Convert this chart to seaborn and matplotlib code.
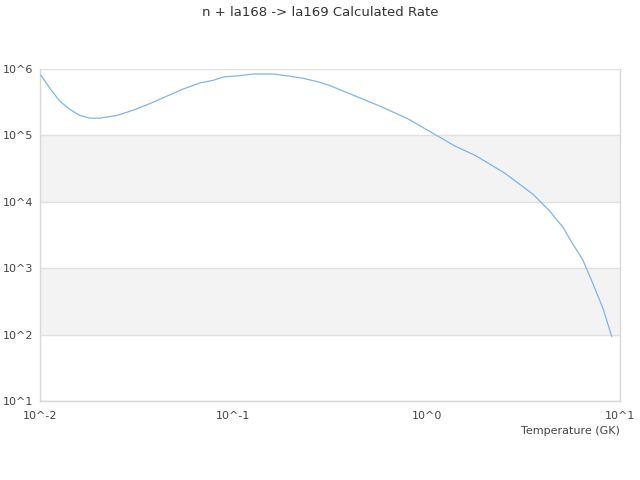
import numpy as np
import pandas as pd
import matplotlib
matplotlib.use('Agg')
import matplotlib.pyplot as plt
import seaborn as sns
from matplotlib.ticker import FuncFormatter, FixedLocator, NullLocator

# Rate values (temperature in GK, rate)
temperature = [0.0101, 0.0113, 0.0127, 0.0143, 0.0161, 0.0181, 0.0204, 0.0249,
               0.0304, 0.0371, 0.0452, 0.0552, 0.0672, 0.0788, 0.0888, 0.108,
               0.127, 0.161, 0.197, 0.23, 0.28, 0.316, 0.574, 0.80, 1.08, 1.40,
               1.78, 2.54, 3.56, 4.3, 5.09, 5.6, 6.41, 7.14, 8.2, 9.06]
log_rate = [5.91, 5.70, 5.51, 5.39, 5.30, 5.26, 5.26, 5.30,
            5.38, 5.48, 5.59, 5.70, 5.79, 5.83, 5.88, 5.90,
            5.925, 5.925, 5.89, 5.86, 5.80, 5.75, 5.44, 5.25, 5.03, 4.84,
            4.70, 4.43, 4.11, 3.87, 3.61, 3.40, 3.13, 2.81, 2.38, 1.97]
rate = [10 ** v for v in log_rate]

x_ticks = [0.01, 0.1, 1, 10]
y_ticks = [10, 100, 1000, 1e4, 1e5, 1e6]
title = "n + la168 -> la169 Calculated Rate"
x_label = "Temperature (GK)"

df = pd.DataFrame({'T': temperature, 'rate': rate})

sns.set_style('white')
plt.rcParams['font.family'] = ['DejaVu Sans']

fig = plt.figure(figsize=(6.4, 4.8), dpi=100)
ax = fig.add_axes([40 / 640, 1 - 401 / 480, 580 / 640, 332 / 480])

# alternating bands like the original
for lo, hi in [(1e4, 1e5), (1e2, 1e3)]:
    ax.axhspan(lo, hi, color='#f3f3f3', zorder=0, lw=0)
for y in y_ticks:
    ax.axhline(y, color='#e0e0e0', lw=1, zorder=1)

sns.lineplot(data=df, x='T', y='rate', ax=ax, color='#7cb5ec', lw=0.9, zorder=3)

ax.set_xscale('log')
ax.set_yscale('log')
ax.set_xlim(0.01, 10)
ax.set_ylim(10, 1e6)
ax.xaxis.set_major_locator(FixedLocator(x_ticks))
ax.yaxis.set_major_locator(FixedLocator(y_ticks))
ax.xaxis.set_minor_locator(NullLocator())
ax.yaxis.set_minor_locator(NullLocator())
fmt = FuncFormatter(lambda v, p: "10^%d" % round(np.log10(v)))
ax.xaxis.set_major_formatter(fmt)
ax.yaxis.set_major_formatter(fmt)
ax.tick_params(axis='both', length=0, labelsize=8, labelcolor='#444444')
ax.tick_params(axis='x', pad=7)
ax.tick_params(axis='y', pad=5)
for s in ax.spines.values():
    s.set_color('#d8d8d8')
    s.set_linewidth(1)
ax.spines['top'].set_visible(False)
ax.set_xlabel('')
ax.set_ylabel('')

fig.text(0.5, 1 - 12 / 480, title, ha='center', va='center', fontsize=9.5, color='#333333')
fig.text(620 / 640, 1 - 431 / 480, x_label, ha='right', va='center', fontsize=8, color='#444444')

fig.savefig('out.png', dpi=100)
